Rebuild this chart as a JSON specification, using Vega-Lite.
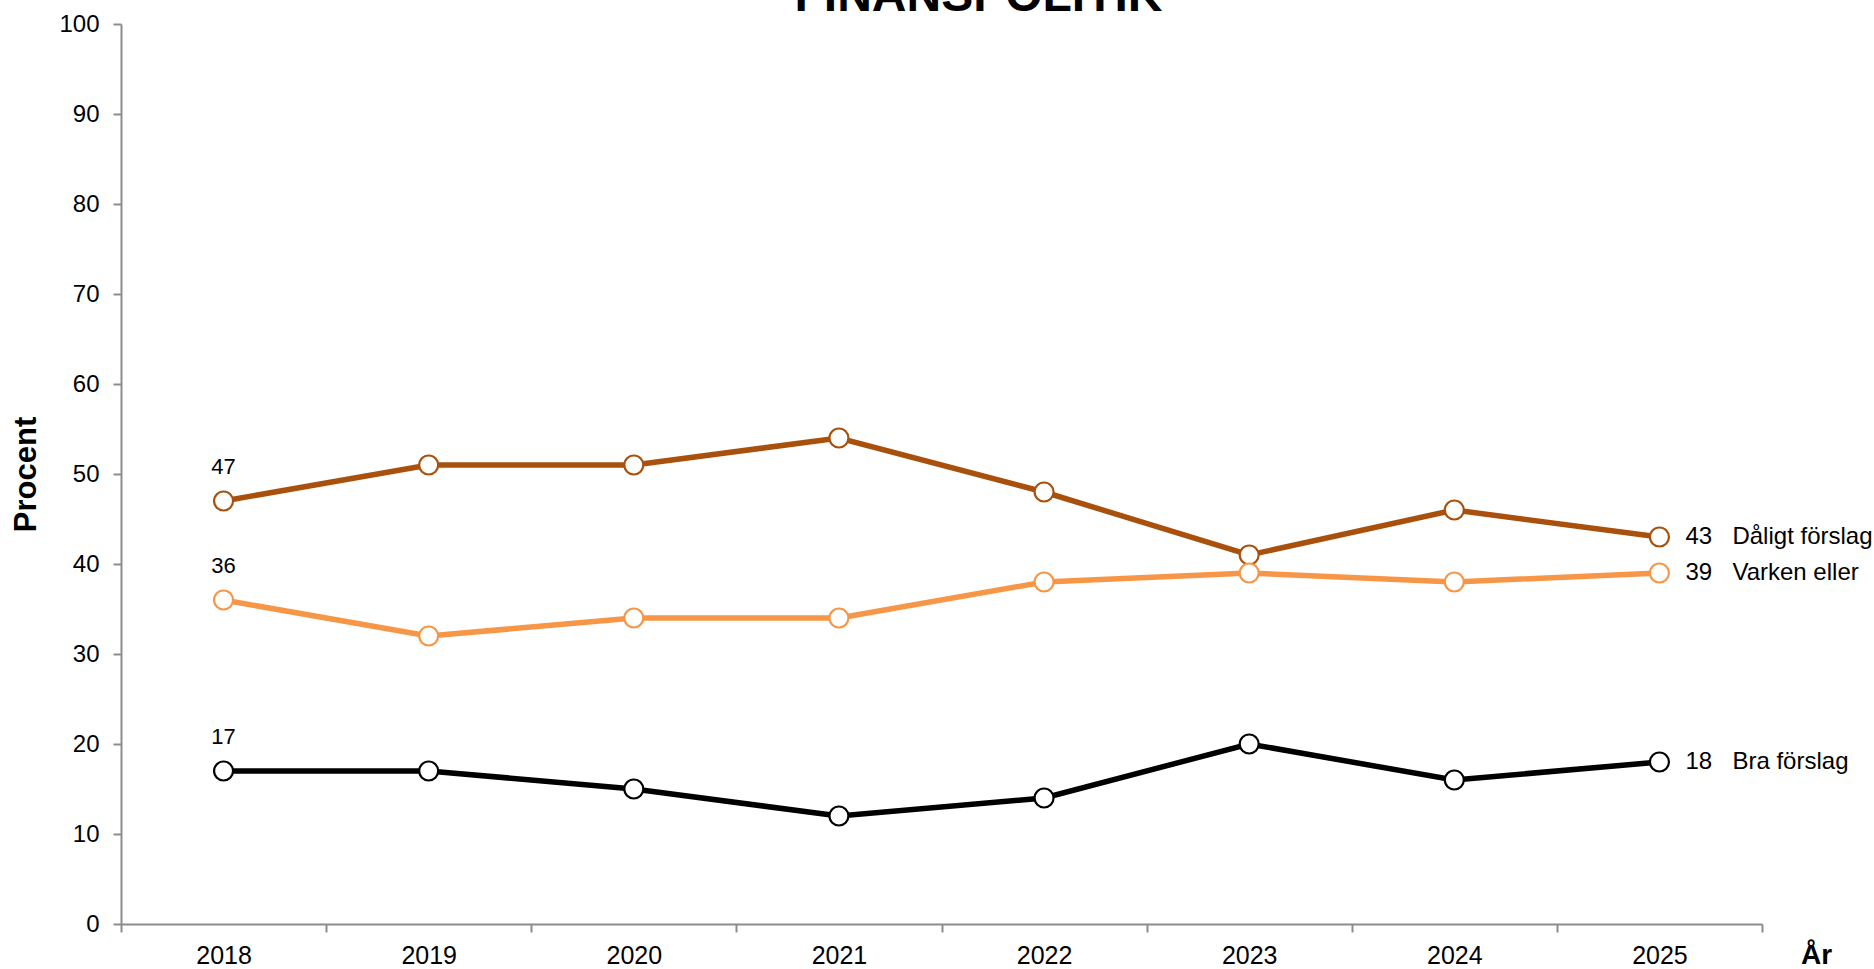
{
  "$schema": "https://vega.github.io/schema/vega-lite/v6.json",
  "autosize": "none",
  "width": 1641,
  "height": 900,
  "padding": {"left": 121, "top": 24, "right": 112, "bottom": 45},
  "background": "white",
  "config": {"font": "Liberation Sans", "view": {"stroke": null}},
  "title": {"text": "FINANSPOLITIK", "fontSize": 48, "fontWeight": "bold", "color": "black", "anchor": "middle", "frame": "group", "dx": 37, "dy": 9, "offset": 0},
  "data": {"values": [
    {"year": "2018", "series": "Dåligt förslag", "value": 47},
    {"year": "2019", "series": "Dåligt förslag", "value": 51},
    {"year": "2020", "series": "Dåligt förslag", "value": 51},
    {"year": "2021", "series": "Dåligt förslag", "value": 54},
    {"year": "2022", "series": "Dåligt förslag", "value": 48},
    {"year": "2023", "series": "Dåligt förslag", "value": 41},
    {"year": "2024", "series": "Dåligt förslag", "value": 46},
    {"year": "2025", "series": "Dåligt förslag", "value": 43},
    {"year": "2018", "series": "Varken eller", "value": 36},
    {"year": "2019", "series": "Varken eller", "value": 32},
    {"year": "2020", "series": "Varken eller", "value": 34},
    {"year": "2021", "series": "Varken eller", "value": 34},
    {"year": "2022", "series": "Varken eller", "value": 38},
    {"year": "2023", "series": "Varken eller", "value": 39},
    {"year": "2024", "series": "Varken eller", "value": 38},
    {"year": "2025", "series": "Varken eller", "value": 39},
    {"year": "2018", "series": "Bra förslag", "value": 17},
    {"year": "2019", "series": "Bra förslag", "value": 17},
    {"year": "2020", "series": "Bra förslag", "value": 15},
    {"year": "2021", "series": "Bra förslag", "value": 12},
    {"year": "2022", "series": "Bra förslag", "value": 14},
    {"year": "2023", "series": "Bra förslag", "value": 20},
    {"year": "2024", "series": "Bra förslag", "value": 16},
    {"year": "2025", "series": "Bra förslag", "value": 18}
  ]},
  "encoding": {
    "x": {"field": "year", "type": "ordinal", "sort": null,
      "scale": {"type": "band", "paddingInner": 0, "paddingOuter": 0},
      "axis": {"tickBand": "extent", "labelAngle": 0, "labelFontSize": 25, "labelColor": "black",
        "labelBaseline": "alphabetic", "labelPadding": 31, "domainColor": "#8c8c8c", "domainWidth": 2,
        "tickColor": "#8c8c8c", "tickWidth": 2, "tickSize": 8,
        "title": "År", "titleFontSize": 28, "titleFontWeight": "bold", "titleColor": "black",
        "titleX": 1695, "titleY": 39, "titleBaseline": "alphabetic", "titleAlign": "center", "titleAnchor": null}},
    "y": {"field": "value", "type": "quantitative",
      "scale": {"domain": [0, 100]},
      "axis": {"values": [0,10,20,30,40,50,60,70,80,90,100], "grid": false, "labelFontSize": 24, "labelColor": "black",
        "labelPadding": 14, "domainColor": "#8c8c8c", "domainWidth": 2, "tickColor": "#8c8c8c", "tickWidth": 2, "tickSize": 8,
        "title": "Procent", "titleFontSize": 31, "titleFontWeight": "bold", "titleColor": "black", "titlePadding": 16}}
  },
  "layer": [
    {"mark": {"type": "line", "strokeWidth": 5.5},
     "encoding": {"color": {"field": "series", "type": "nominal", "legend": null,
        "scale": {"domain": ["Dåligt förslag", "Varken eller", "Bra förslag"], "range": ["#A9510C", "#F79646", "#000000"]}}}},
    {"mark": {"type": "point", "shape": "circle", "fill": "white", "fillOpacity": 1, "filled": false, "size": 360, "strokeWidth": 2.2, "opacity": 1},
     "encoding": {"stroke": {"field": "series", "type": "nominal", "legend": null,
        "scale": {"domain": ["Dåligt förslag", "Varken eller", "Bra förslag"], "range": ["#A9510C", "#F79646", "#000000"]}}}},
    {"transform": [{"filter": "datum.year == '2018'"}],
     "mark": {"type": "text", "fontSize": 22, "dy": -34, "color": "black"},
     "encoding": {"text": {"field": "value", "type": "quantitative"}}},
    {"transform": [{"filter": "datum.year == '2025'"}],
     "mark": {"type": "text", "fontSize": 24, "align": "left", "dx": 26, "color": "black"},
     "encoding": {"text": {"field": "value", "type": "quantitative"}}},
    {"transform": [{"filter": "datum.year == '2025'"}],
     "mark": {"type": "text", "fontSize": 24, "align": "left", "dx": 73, "color": "black"},
     "encoding": {"text": {"field": "series", "type": "nominal"}}}
  ]
}
